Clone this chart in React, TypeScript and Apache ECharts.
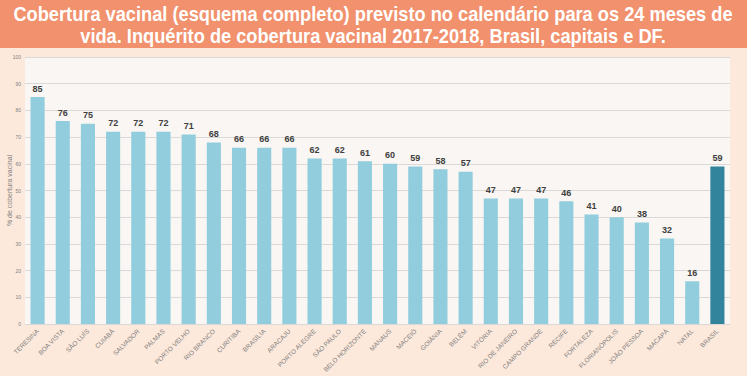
import React, { useEffect, useRef } from "react";
import * as echarts from "echarts";

const categories = [
  "TERESINA", "BOA VISTA", "SÃO LUÍS", "CUIABÁ", "SALVADOR", "PALMAS", "PORTO VELHO",
  "RIO BRANCO", "CURITIBA", "BRASÍLIA", "ARACAJU", "PORTO ALEGRE", "SÃO PAULO",
  "BELO HORIZONTE", "MANAUS", "MACEIÓ", "GOIÂNIA", "BELÉM", "VITÓRIA", "RIO DE JANEIRO",
  "CAMPO GRANDE", "RECIFE", "FORTALEZA", "FLORIANÓPOLIS", "JOÃO PESSOA", "MACAPÁ",
  "NATAL", "BRASIL",
];
const values = [85, 76, 75, 72, 72, 72, 71, 68, 66, 66, 66, 62, 62, 61, 60, 59, 58, 57, 47, 47, 47, 46, 41, 40, 38, 32, 16, 59];
const highlight = "BRASIL";
const titleLines = [
  "Cobertura vacinal (esquema completo) previsto no calendário para os 24 meses de",
  "vida. Inquérito de cobertura vacinal 2017-2018, Brasil, capitais e DF.",
];
const yAxisName = "% de cobertura vacinal";

const TITLE_FONT = "bold 20px 'Liberation Sans', Arial, sans-serif";

function measure(text: string): number {
  const c = document.createElement("canvas");
  const ctx = c.getContext("2d")!;
  ctx.font = TITLE_FONT;
  return ctx.measureText(text).width;
}

export default function App() {
  const ref = useRef<HTMLDivElement>(null);
  useEffect(() => {
    const chart = echarts.init(ref.current!, null, { renderer: "svg" });
    const w1 = measure(titleLines[0]);
    const sx = 720 / w1;
    chart.setOption({
      animation: false,
      backgroundColor: "#FDE9DB",
      graphic: [
        { type: "rect", left: 0, top: 0, shape: { width: 747, height: 48 }, style: { fill: "#F1916D" }, z: -1 },
        ...titleLines.map((t, i) => ({
          type: "text",
          x: 373,
          y: 14 + i * 22,
          scaleX: sx,
          style: {
            text: t,
            fill: "#FFFFFF",
            font: TITLE_FONT,
            align: "center",
            verticalAlign: "middle",
          },
        })),
      ],
      grid: {
        left: 25,
        right: 17,
        top: 57,
        bottom: 52,
        show: true,
        backgroundColor: "#F9F6F3",
        borderWidth: 0,
        outerBoundsMode: "none",
        containLabel: false,
      },
      xAxis: {
        type: "category",
        data: categories,
        axisLine: { lineStyle: { color: "#D9D9D9" } },
        axisTick: { show: false },
        axisLabel: {
          rotate: 45,
          interval: 0,
          fontSize: 6.5,
          color: "#7F7F7F",
          fontFamily: "Liberation Sans, Arial, sans-serif",
          margin: 6,
        },
      },
      yAxis: {
        type: "value",
        min: 0,
        max: 100,
        interval: 10,
        name: yAxisName,
        nameLocation: "middle",
        nameGap: 12,
        nameMoveOverlap: false,
        nameTextStyle: { fontSize: 7, color: "#7F7F7F", fontFamily: "Liberation Sans, Arial, sans-serif" },
        axisLine: { show: false },
        axisTick: { show: false },
        splitLine: { lineStyle: { color: "#D9D9D9" } },
        axisLabel: { fontSize: 5, color: "#7F7F7F", margin: 4, fontFamily: "Liberation Sans, Arial, sans-serif" },
      },
      series: [
        {
          type: "bar",
          barCategoryGap: "44%",
          data: values.map((v, i) => ({
            value: v,
            itemStyle: { color: categories[i] === highlight ? "#31849B" : "#92CDDD" },
          })),
          label: {
            show: true,
            position: "top",
            fontSize: 9,
            fontWeight: "bold",
            color: "#404040",
            distance: 4,
            fontFamily: "Liberation Sans, Arial, sans-serif",
          },
        },
      ],
    });
    return () => chart.dispose();
  }, []);
  return <div ref={ref} style={{ width: 747, height: 376, position: "absolute", left: 0, top: 0 }} />;
}
